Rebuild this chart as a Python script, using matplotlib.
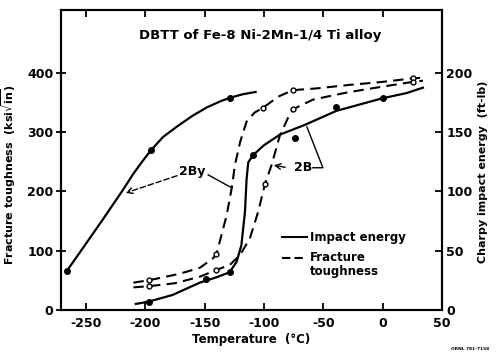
import matplotlib
matplotlib.use('Agg')
import matplotlib.pyplot as plt

plt.rcParams['font.family'] = ['DejaVu Sans']
plt.rcParams['font.weight'] = 'bold'
plt.rcParams['axes.unicode_minus'] = False
plt.rcParams['mathtext.default'] = 'bf'

# --- curves ---
# 2By, Charpy impact energy (ft-lb), solid
by_imp_t = [-266, -252, -236, -219, -210, -202, -195, -185, -173, -160, -148, -137, -129, -118, -107]
by_imp_e = [33, 53, 76, 101, 115, 126, 135, 146, 155, 164, 171, 176, 179, 182, 184]
by_imp_mt = [-266, -195, -129]
by_imp_me = [33, 135, 179]

# 2B, Charpy impact energy (ft-lb), solid
b_imp_t = [-208, -197, -177, -154, -140, -129, -123, -119, -116, -114.6, -113.2, -109, -100, -86.5, -66, -39, 0, 20, 34]
b_imp_e = [5, 7, 12.6, 23, 27.5, 31.7, 40.6, 54.6, 82.6, 110.7, 124.6, 130.8, 139, 148, 156, 168, 178.7, 183, 187.6]
b_imp_mt = [-197, -149, -129, -109, -39, 0]
b_imp_me = [7, 26, 31.7, 130.8, 171, 178.7]
# stray point below the 2B curve
b_imp_xt = [-74]
b_imp_xe = [145]

# 2By, fracture toughness (ksi sqrt(in)), dashed
by_ft_t = [-210, -197, -185, -171, -154, -143, -140, -135.7, -131.4, -127.2, -124.4, -120, -114.6, -108, -100.6,
           -88, -75.8, -55.6, -27.5, 0, 25.5, 34]
by_ft_k = [46, 50, 55, 61, 71, 87, 94, 127, 160, 205, 245, 284, 318, 333, 341.5, 360, 371, 374, 380, 385, 391, 392]
by_ft_mt = [-197, -140, -100.6, -75.8, 25.5]
by_ft_mk = [50, 94, 341.5, 371, 391]

# 2B, fracture toughness (ksi sqrt(in)), dashed
b_ft_t = [-210, -197, -175, -154, -140, -128.7, -120, -111.8, -104.8, -99.2, -93.5, -86.5, -80, -75.3, -58.7, -40,
          -27.5, 0, 25.5, 34]
b_ft_k = [38, 40, 45, 56, 67.5, 76, 93, 121, 166, 212, 245, 295, 323, 339, 355, 363, 368, 377, 385, 387]
b_ft_mt = [-197, -140, -99.2, -75.3, 25.5]
b_ft_mk = [40, 67.5, 212, 339, 385]

x_ticks = [-250, -200, -150, -100, -50, 0, 50]
yl_ticks = [0, 100, 200, 300, 400]
yr_ticks = [0, 50, 100, 150, 200]

fig = plt.figure(figsize=(4.96, 3.57), dpi=100)
ax = fig.add_axes([0.123, 0.132, 0.768, 0.841])
ax2 = ax.twinx()

dash = (0, (5, 3))
ax.plot(by_ft_t, by_ft_k, color='black', lw=1.5, linestyle=dash)
ax.plot(b_ft_t, b_ft_k, color='black', lw=1.5, linestyle=dash)
ax.plot(by_ft_mt, by_ft_mk, 'o', ms=3.5, mfc='white', mec='black', mew=1)
ax.plot(b_ft_mt, b_ft_mk, 'o', ms=3.5, mfc='white', mec='black', mew=1)

ax2.plot(by_imp_t, by_imp_e, color='black', lw=1.6)
ax2.plot(b_imp_t, b_imp_e, color='black', lw=1.6)
ax2.plot(by_imp_mt, by_imp_me, 'o', ms=4, color='black')
ax2.plot(b_imp_mt, b_imp_me, 'o', ms=4, color='black')
ax2.plot(b_imp_xt, b_imp_xe, 'o', ms=4, color='black')

ax.set_xlim(-271, 50)
ax.set_ylim(0, 507)
ax2.set_ylim(0, 253.5)

ax.set_xticks(x_ticks)
ax.set_xticklabels([str(v) for v in x_ticks])
ax.set_yticks(yl_ticks)
ax2.set_yticks(yr_ticks)

ax.tick_params(axis='x', direction='in', length=5, width=1.3, top=True, labelsize=9, pad=5)
ax.tick_params(axis='y', direction='inout', length=7, width=1.3, labelsize=9, pad=2)
ax2.tick_params(axis='y', direction='in', length=5, width=1.3, labelsize=9, pad=3)
for a in (ax, ax2):
    for s in a.spines.values():
        s.set_linewidth(1.5)

ax.set_xlabel('Temperature  (°C)', fontsize=8.5, fontweight='bold', labelpad=2)
ax.set_ylabel(r'Fracture toughness  (ksi$\sqrt{\rm in}$)', fontsize=8, fontweight='bold')
ax.yaxis.set_label_coords(-0.112, 0.45)
ax2.set_ylabel('Charpy impact energy  (ft-lb)', fontsize=8, fontweight='bold')
ax2.yaxis.set_label_coords(1.095, 0.46)

ax.text(-103, 464, 'DBTT of Fe-8 Ni-2Mn-1/4 Ti alloy', ha='center', va='center', fontsize=9.5, fontweight='bold')

# curve labels with leaders
ax.text(-160.7, 233, '2By', ha='center', va='center', fontsize=9, fontweight='bold')
ax.annotate('', xy=(-218.8, 196), xytext=(-171, 228),
            arrowprops=dict(arrowstyle='->', lw=1, color='black', linestyle=(0, (4, 2))))
ax.plot([-147, -127], [228, 206], color='black', lw=1)

ax.text(-67, 241, '2B', ha='center', va='center', fontsize=9, fontweight='bold')
ax.annotate('', xy=(-94, 245), xytext=(-79.8, 240),
            arrowprops=dict(arrowstyle='->', lw=1, color='black'))
ax.plot([-58.7, -50.3, -63.8], [240, 240, 309], color='black', lw=1)

# legend drawn by hand like the original
ax.plot([-84.8, -63.8], [123, 123], color='black', lw=1.5)
ax.text(-61.2, 123, 'Impact energy', ha='left', va='center', fontsize=8.5, fontweight='bold')
ax.plot([-84.8, -63.8], [88, 88], color='black', lw=1.5, linestyle=(0, (4, 2)))
ax.text(-61.2, 88, 'Fracture', ha='left', va='center', fontsize=8.5, fontweight='bold')
ax.text(-61.2, 64, 'toughness', ha='left', va='center', fontsize=8.5, fontweight='bold')

fig.text(0.947, 0.022, 'ORNL 781-7158', ha='center', va='center', fontsize=3.2, fontweight='bold')

fig.savefig('out.png', dpi=100)
